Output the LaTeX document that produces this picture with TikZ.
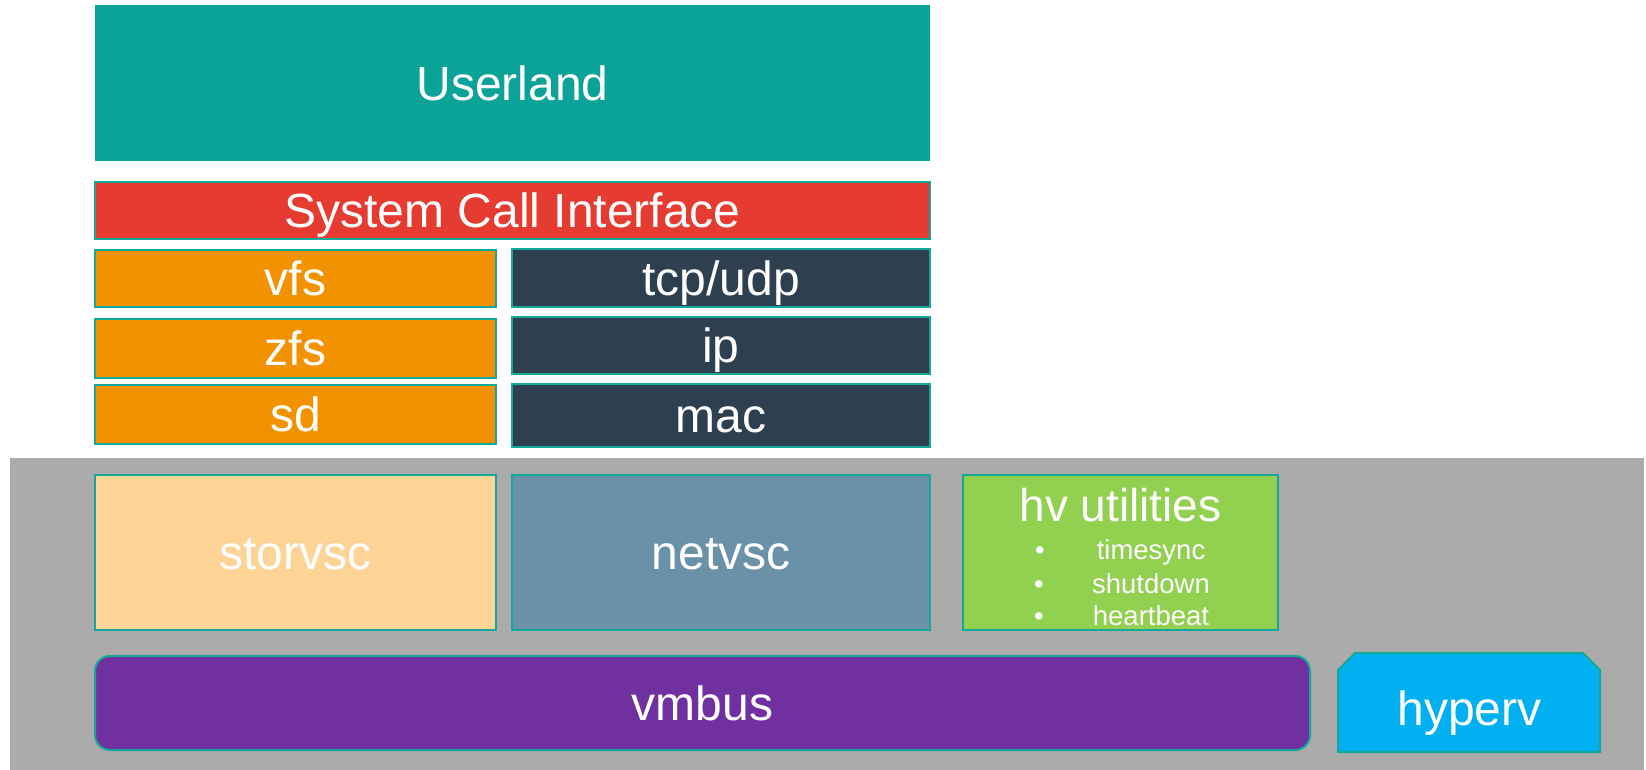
\documentclass[tikz,border=0pt]{standalone}
\usepackage{fontspec}
\setmainfont{Liberation Sans}
\definecolor{cuser}{HTML}{0BA398}
\definecolor{cred}{HTML}{E53B30}
\definecolor{corange}{HTML}{F39200}
\definecolor{cdark}{HTML}{2E404F}
\definecolor{cband}{HTML}{ABABAB}
\definecolor{cstor}{HTML}{FED496}
\definecolor{cnet}{HTML}{6B91A8}
\definecolor{cgreen}{HTML}{92D050}
\definecolor{cpurple}{HTML}{7030A0}
\definecolor{chyper}{HTML}{00B0F0}
\definecolor{cedge}{HTML}{14A89A}
\begin{document}
\begin{tikzpicture}[x=1pt,y=-1pt,
  blk/.style={draw=cedge, line width=2pt, inner sep=0pt, outer sep=0pt, anchor=center},
  big/.style={text=white, inner sep=0pt, font=\fontsize{48}{48}\selectfont, text height=34.4pt, text depth=0pt, anchor=center},
  item/.style={text=white, inner sep=0pt, font=\fontsize{27.5}{27.5}\selectfont, anchor=base}]
\useasboundingbox (0,0) rectangle (1646,770);
\fill[white] (0,0) rectangle (1646,770);
\node[fill=cband, inner sep=0pt, minimum width=1634pt, minimum height=312pt, anchor=north west] (band) at (10,458) {};
% top stack
\node[fill=cuser, inner sep=0pt, minimum width=835pt, minimum height=156pt] (user) at (512.5,83) {};
\node[big] (userT) at (user.center) {Userland};
\node[blk, fill=cred, minimum width=835pt, minimum height=57pt] (sci) at (512.5,210.5) {};
\node[big] (sciT) at (sci.center) {System Call Interface};
\node[blk, fill=corange, minimum width=401pt, minimum height=57pt] (vfs) at (295.5,278) {};
\node[big] (vfsT) at (vfs.center) {vfs};
\node[blk, fill=corange, minimum width=401pt, minimum height=59pt] (zfs) at (295.5,348) {};
\node[big] (zfsT) at (zfs.center) {zfs};
\node[blk, fill=corange, minimum width=401pt, minimum height=59pt] (sd) at (295.5,414.5) {};
\node[big] (sdT) at (sd.center) {sd};
\node[blk, fill=cdark, minimum width=418pt, minimum height=58pt] (tcp) at (721,278) {};
\node[big] (tcpT) at (tcp.center) {tcp/udp};
\node[blk, fill=cdark, minimum width=418pt, minimum height=57pt] (ip) at (721,345.5) {};
\node[big] (ipT) at (ip.center) {ip};
\node[blk, fill=cdark, minimum width=418pt, minimum height=63pt] (mac) at (721,415.5) {};
\node[big] (macT) at (mac.center) {mac};
% lower band
\node[blk, fill=cstor, minimum width=401pt, minimum height=155pt] (stor) at (295.5,552.5) {};
\node[big] (storT) at (stor.center) {storvsc};
\node[blk, fill=cnet, minimum width=418pt, minimum height=155pt] (net) at (721,552.5) {};
\node[big] (netT) at (net.center) {netvsc};
\node[blk, fill=cgreen, minimum width=315pt, minimum height=155pt] (hv) at (1120.5,552.5) {};
\node[text=white, inner sep=0pt, font=\fontsize{46}{46}\selectfont, anchor=base] (hvT) at (1120.5,521) {hv utilities};
\node[item] (i1) at (1151,559.5) {timesync};
\node[item] (i2) at (1151,593) {shutdown};
\node[item] (i3) at (1151,625.5) {heartbeat};
\node[item] (b1) at (1040,559.5) {•};
\node[item] (b2) at (1039,593) {•};
\node[item] (b3) at (1039,625.5) {•};
\node[blk, fill=cpurple, rounded corners=15pt, minimum width=1215pt, minimum height=94pt] (vmbus) at (702.5,703) {};
\node[big] (vmbusT) at (vmbus.center) {vmbus};
\draw[draw=cedge, line width=2pt, fill=chyper] (1338,752) -- (1338,670) -- (1355,653) -- (1583,653) -- (1600,670) -- (1600,752) -- cycle;
\node[text=white, inner sep=0pt, font=\fontsize{48}{48}\selectfont, anchor=base] (hyperv) at (1469.5,725) {hyperv};
\end{tikzpicture}
\end{document}
